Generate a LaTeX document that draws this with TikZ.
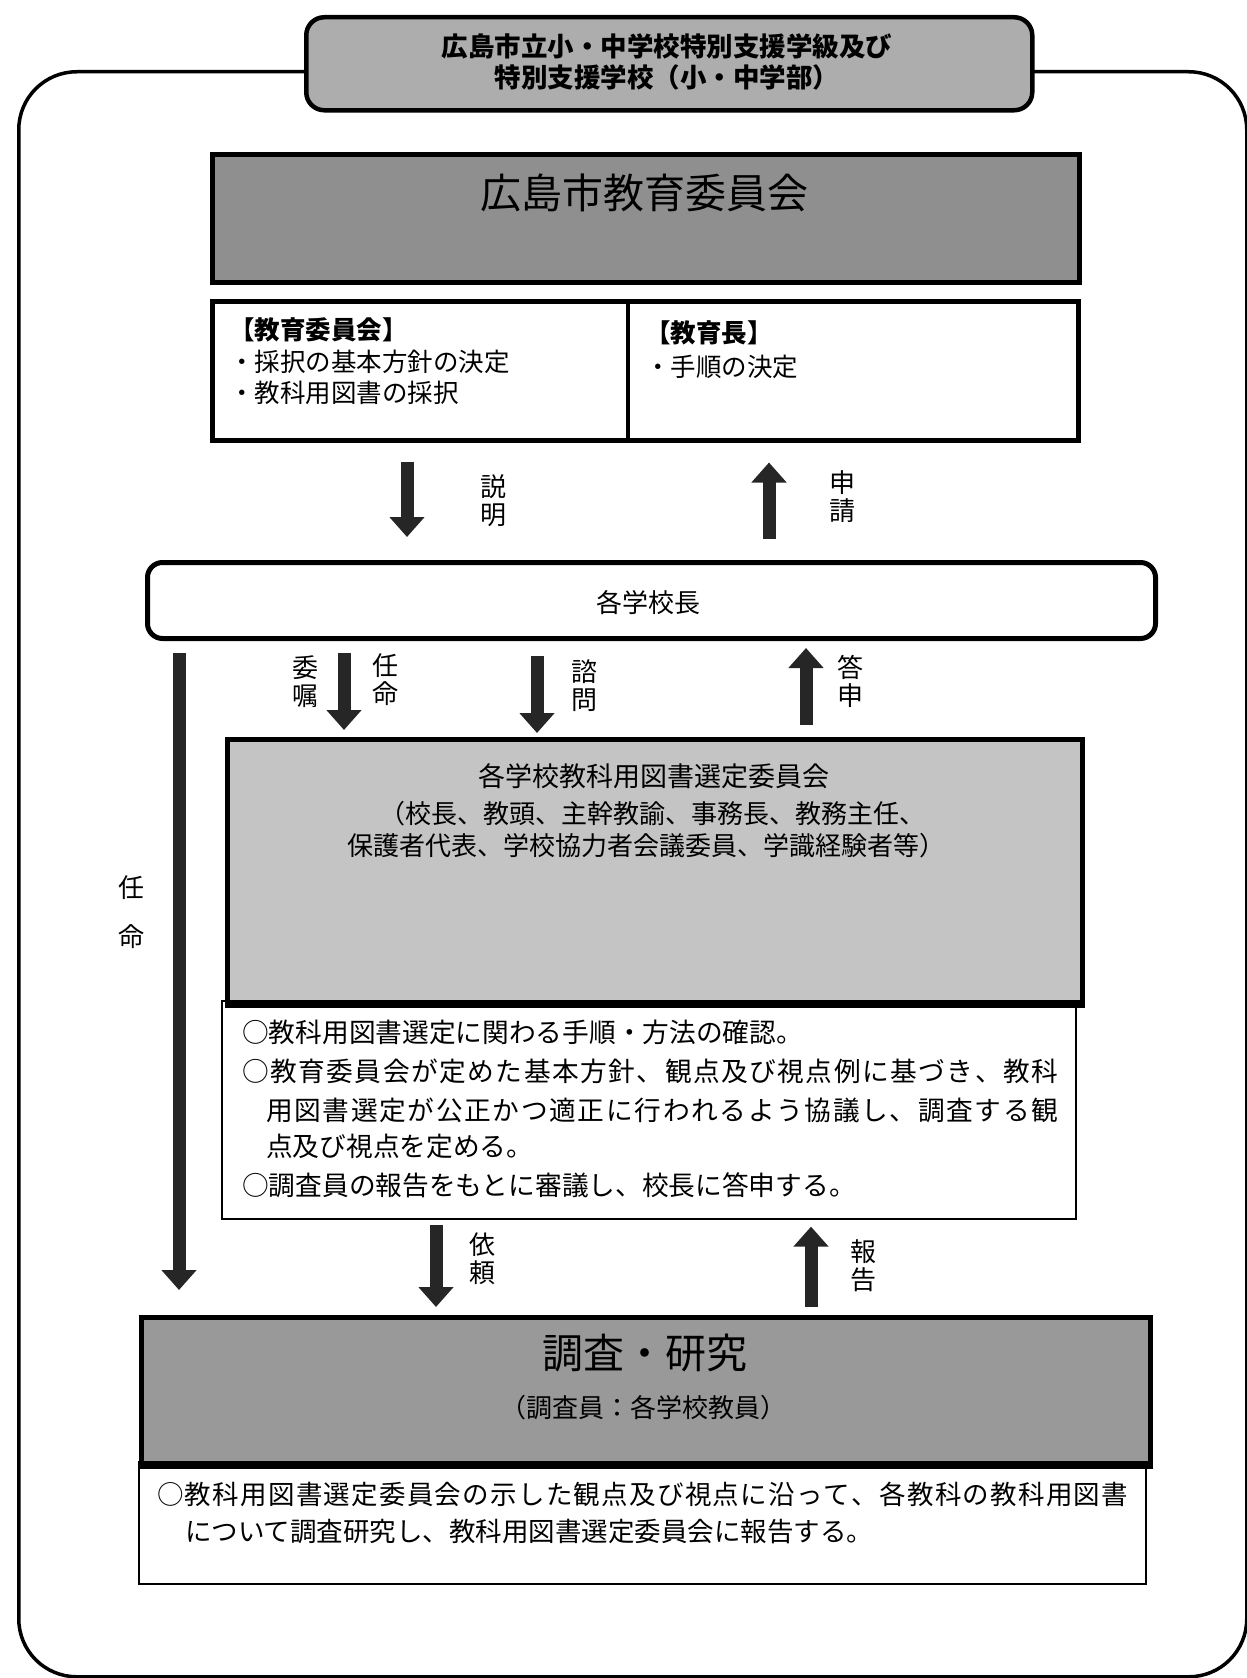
\documentclass[tikz,border=0pt]{standalone}
\usepackage{fontspec}
\setmainfont{Noto Sans CJK JP}
\usetikzlibrary{arrows.meta}
\definecolor{gtitle}{gray}{0.68}
\definecolor{gboard}{gray}{0.56}
\definecolor{gcomm}{gray}{0.77}
\definecolor{gres}{gray}{0.60}
\def\spreadA#1{\ifx#1\relax\else#1\hfill\expandafter\spreadA\fi}
\newcommand\spreadline[2]{\hbox to #1{\spreadA#2\relax\unskip}}
\begin{document}
\begin{tikzpicture}[x=1pt,y=-1pt,
  box/.style={draw, inner sep=0pt, anchor=north west},
  thickbox/.style={box, line width=5pt},
  thinbox/.style={box, line width=1.6pt},
  txt/.style={inner sep=0pt, font=\fontsize{26}{28}\selectfont},
  lbl/.style={inner sep=0pt, align=center, font=\fontsize{26}{28}\selectfont},
  bigtxt/.style={inner sep=0pt, font=\fontsize{41}{45}\selectfont},
  bigarrow/.style={line width=13pt, draw=black!85, -{Triangle[width=34pt,length=20pt]}},
]
\useasboundingbox (0,0) rectangle (1247,1678);

% outer frame
\node[box, line width=3.5pt, rounded corners=58pt, minimum width=1228pt, minimum height=1605pt] (frame) at (17,70) {};

% title box
\node[box, line width=4.5pt, rounded corners=18pt, fill=gtitle, minimum width=726pt, minimum height=93pt] (title) at (304,15) {};
\node[inner sep=0pt, align=center, font=\fontsize{26.5}{31}\bfseries\selectfont] (titletxt) at (667,62) {広島市立小・中学校特別支援学級及び\\特別支援学校（小・中学部）};

% board of education
\node[thickbox, fill=gboard, minimum width=867pt, minimum height=128pt] (board) at (210,152) {};
\node[bigtxt] (boardtxt) at (644,193) {広島市教育委員会};

% two-column box
\node[box, line width=4.5pt, minimum width=866pt, minimum height=139pt] (twocol) at (210,299) {};
\coordinate (divx) at (628,0);
\draw[line width=3.5pt] (twocol.north -| divx) -- (twocol.south -| divx);
\node[txt, anchor=west, font=\fontsize{25.5}{28}\bfseries\selectfont] (l1) at (229,330) {【教育委員会】};
\node[txt, anchor=west, font=\fontsize{25.5}{28}\selectfont] (l2) at (229,362) {・採択の基本方針の決定};
\node[txt, anchor=west, font=\fontsize{25.5}{28}\selectfont] (l3) at (229,393) {・教科用図書の採択};
\node[txt, anchor=west, font=\fontsize{25.5}{28}\bfseries\selectfont] (r1) at (645,333) {【教育長】};
\node[txt, anchor=west, font=\fontsize{25.5}{28}\selectfont] (r2) at (645,367) {・手順の決定};

% principals
\node[box, line width=5pt, rounded corners=15pt, minimum width=1008pt, minimum height=76pt] (principal) at (145,560) {};
\node[txt] (principaltxt) at (648,603) {各学校長};

% selection committee
\node[thickbox, fill=gcomm, minimum width=855pt, minimum height=263pt] (comm) at (225,737) {};
\node[txt, font=\fontsize{27}{28}\selectfont] (c1) at (654,776) {各学校教科用図書選定委員会};
\node[txt] (c2) at (652,814) {（校長、教頭、主幹教諭、事務長、教務主任、};
\node[txt] (c3) at (646,846) {保護者代表、学校協力者会議委員、学識経験者等）};
\node[thinbox, minimum width=854pt, minimum height=218pt] (cwhite) at (221,1000) {};
\draw[line width=5pt] (comm.south west) -- (comm.south east);
\node[txt, anchor=west, font=\fontsize{26.7}{28}\selectfont] (w1) at (242,1032) {○教科用図書選定に関わる手順・方法の確認。};
\node[txt, anchor=west, font=\fontsize{26.7}{28}\selectfont] (w2) at (242,1071) {\spreadline{816pt}{○教育委員会が定めた基本方針、観点及び視点例に基づき、教科}};
\node[txt, anchor=west, font=\fontsize{26.7}{28}\selectfont] (w3) at (266,1110) {\spreadline{792pt}{用図書選定が公正かつ適正に行われるよう協議し、調査する観}};
\node[txt, anchor=west, font=\fontsize{26.7}{28}\selectfont] (w4) at (266,1146) {点及び視点を定める。};
\node[txt, anchor=west, font=\fontsize{26.7}{28}\selectfont] (w5) at (242,1185) {○調査員の報告をもとに審議し、校長に答申する。};

% research
\node[thickbox, fill=gres, minimum width=1009pt, minimum height=146pt] (res) at (139,1315) {};
\node[bigtxt] (restxt) at (645,1353) {調査・研究};
\node[txt] (ressub) at (643,1408) {（調査員：各学校教員）};
\node[thinbox, minimum width=1007pt, minimum height=122pt] (rwhite) at (138,1461) {};
\draw[line width=5pt] (res.south west) -- (res.south east);
\node[txt, anchor=west, font=\fontsize{26.5}{28}\selectfont] (x1) at (157,1494) {\spreadline{971pt}{○教科用図書選定委員会の示した観点及び視点に沿って、各教科の教科用図書}};
\node[txt, anchor=west, font=\fontsize{26.5}{28}\selectfont] (x2) at (185,1532) {について調査研究し、教科用図書選定委員会に報告する。};

% arrow columns
\coordinate (a1) at (407,0);
\coordinate (a2) at (769,0);
\coordinate (a3) at (179,0);
\coordinate (a4) at (344,0);
\coordinate (a5) at (537,0);
\coordinate (a6) at (806,0);
\coordinate (a7) at (436,0);
\coordinate (a8) at (811,0);

\draw[bigarrow, shorten <=19pt, shorten >=23pt] (twocol.south -| a1) -- (principal.north -| a1);
\draw[bigarrow, shorten <=21pt, shorten >=20pt] (principal.north -| a2) -- (twocol.south -| a2);
\draw[bigarrow, shorten <=12pt, shorten >=25pt] (principal.south -| a3) -- (res.north -| a3);
\draw[bigarrow, shorten <=12pt, shorten >=7pt] (principal.south -| a4) -- (comm.north -| a4);
\draw[bigarrow, shorten <=15pt, shorten >=4pt] (principal.south -| a5) -- (comm.north -| a5);
\draw[bigarrow, shorten <=12pt, shorten >=7pt] (comm.north -| a6) -- (principal.south -| a6);
\draw[bigarrow, shorten <=5pt, shorten >=8pt] (cwhite.south -| a7) -- (res.north -| a7);
\draw[bigarrow, shorten <=8pt, shorten >=7pt] (res.north -| a8) -- (cwhite.south -| a8);

% arrow labels
\node[lbl] (lb1) at (493,501) {説\\明};
\node[lbl] (lb2) at (842,497) {申\\請};
\node[lbl, font=\fontsize{26}{49}\selectfont] (lb3) at (131,912) {任\\命};
\node[lbl] (lb4) at (305,682) {委\\嘱};
\node[lbl] (lb5) at (385,680) {任\\命};
\node[lbl] (lb6) at (584,686) {諮\\問};
\node[lbl] (lb7) at (850,681) {答\\申};
\node[lbl] (lb8) at (482,1259) {依\\頼};
\node[lbl] (lb9) at (863,1266) {報\\告};
\end{tikzpicture}
\end{document}
